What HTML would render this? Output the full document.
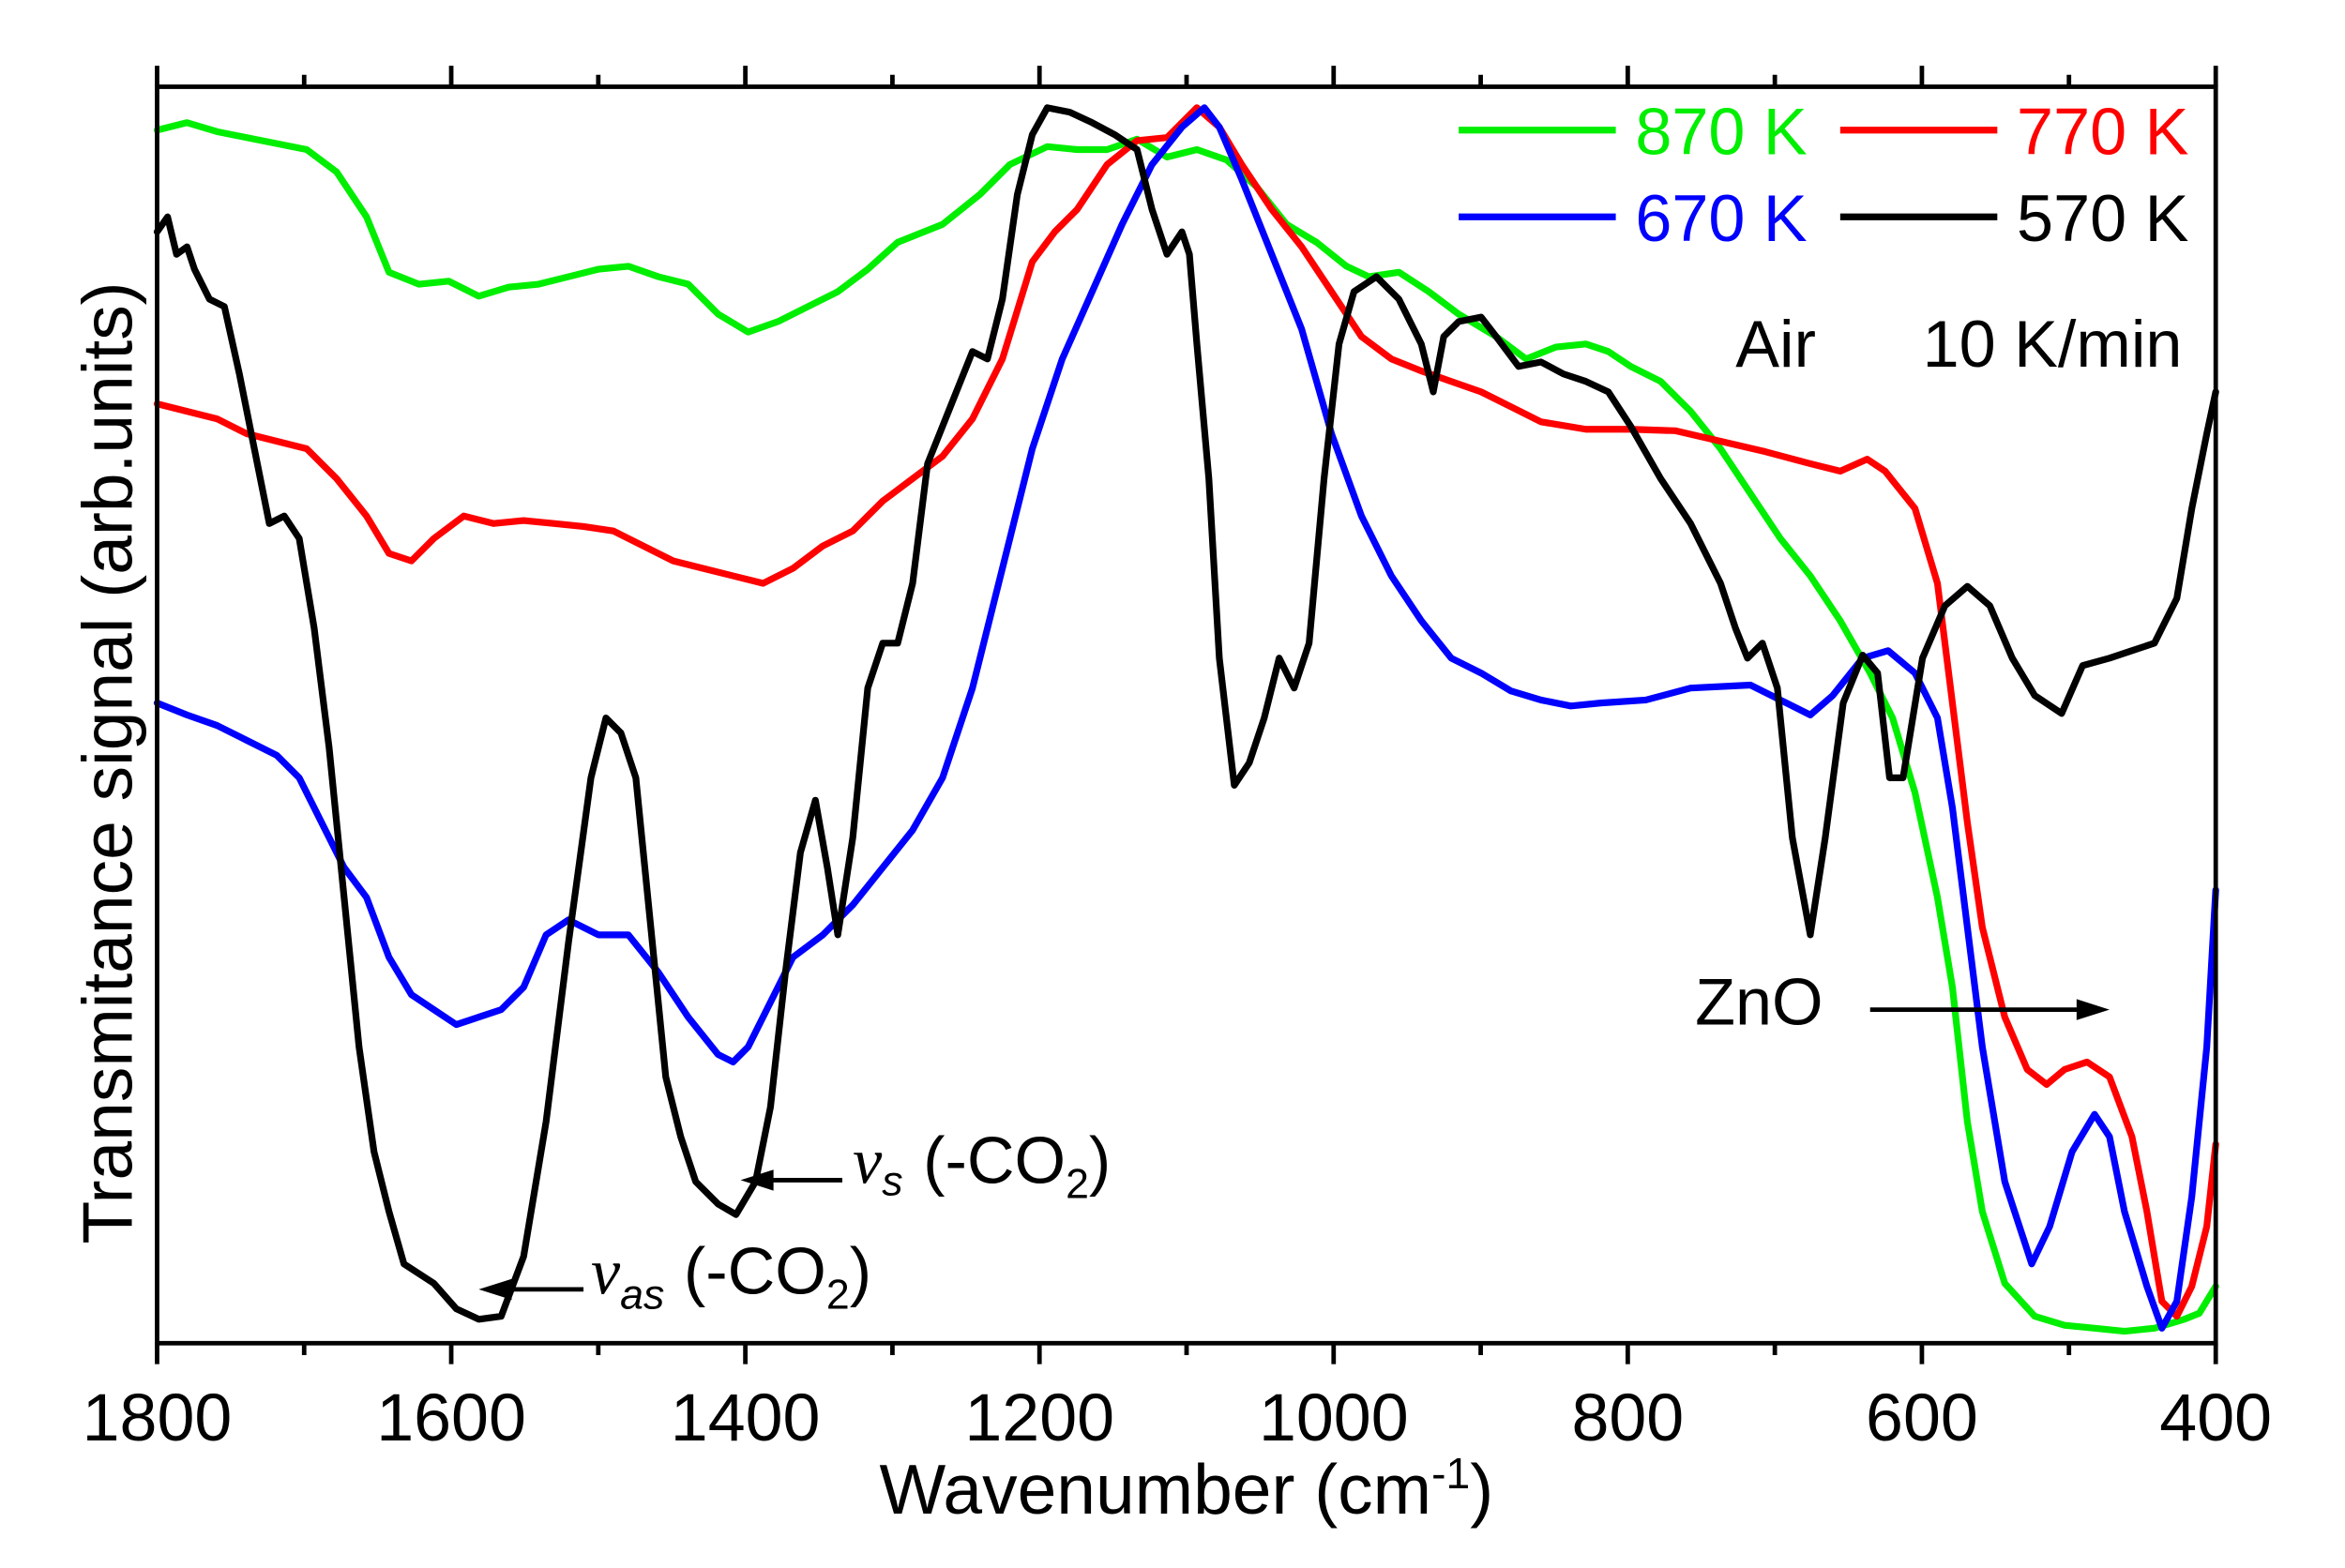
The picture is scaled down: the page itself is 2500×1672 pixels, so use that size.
<!DOCTYPE html>
<html><head><meta charset="utf-8"><style>html,body{margin:0;padding:0;background:#fff}svg{display:block}</style></head>
<body>
<svg width="2500" height="1672" viewBox="0 0 1567.4 1048.3" preserveAspectRatio="none" xmlns="http://www.w3.org/2000/svg" font-family="Liberation Sans, sans-serif">
<g fill="none" stroke-linejoin="round" stroke-linecap="round" stroke-width="4.5">
<polyline stroke="#00ee00" points="105,87 125,82 145,88 165,92 185,96 205,100 225,115 245,145 260,182 280,190 300,188 320,198 340,192 360,190 380,185 400,180 420,178 440,185 460,190 480,210 500,222 520,215 540,205 560,195 580,180 600,162 630,150 655,130 675,110 700,98 720,100 740,100 760,93 780,105 800,100 820,107 840,125 860,150 880,162 900,178 915,185 935,182 955,195 975,210 1000,225 1020,240 1040,232 1060,230 1075,235 1090,245 1110,255 1130,275 1150,300 1170,330 1190,360 1210,385 1230,415 1250,450 1265,480 1280,530 1295,600 1305,660 1315,750 1325,810 1340,858 1360,880 1380,886 1400,888 1420,890 1440,888 1460,882 1470,878 1481,860"/>
<polyline stroke="#ff0000" points="105,270 125,275 145,280 165,290 185,295 205,300 225,320 245,345 260,370 275,375 290,360 310,345 330,350 350,348 370,350 390,352 410,355 430,365 450,375 470,380 490,385 510,390 530,380 550,365 570,355 590,335 610,320 630,305 650,280 670,240 690,175 705,155 720,140 740,110 760,94 780,92 800,72 815,85 830,110 850,140 870,165 890,195 910,225 930,240 950,248 970,255 990,262 1010,272 1030,282 1060,287 1090,287 1120,288 1150,295 1180,302 1210,310 1230,315 1248,307 1260,315 1280,340 1295,390 1305,470 1315,550 1325,620 1340,680 1355,715 1368,725 1380,715 1395,710 1410,720 1425,760 1435,810 1445,870 1455,880 1465,860 1475,820 1481,765"/>
<polyline stroke="#0000ff" points="105,470 125,478 145,485 165,495 185,505 200,520 215,550 230,580 245,600 260,640 275,665 290,675 305,685 320,680 335,675 350,660 365,625 380,615 400,625 420,625 440,650 460,680 480,705 490,710 500,700 515,670 530,640 550,625 570,605 590,580 610,555 630,520 650,460 670,380 690,300 710,240 730,195 750,150 770,110 790,85 805,72 815,85 830,120 850,170 870,220 890,290 910,345 930,385 950,415 970,440 990,450 1010,462 1030,468 1050,472 1070,470 1100,468 1130,460 1170,458 1190,468 1210,478 1225,465 1245,440 1262,435 1280,450 1295,480 1305,540 1315,620 1325,700 1340,790 1358,845 1370,820 1385,770 1400,745 1410,760 1420,810 1435,860 1445,888 1455,870 1465,800 1475,700 1481,595"/>
<polyline stroke="#000" points="105,155 112,145 118,170 125,165 130,180 140,200 150,205 160,250 170,300 180,350 190,345 200,360 210,420 220,500 230,600 240,700 250,770 260,810 270,845 290,858 305,875 320,882 335,880 350,840 365,750 380,630 395,520 405,480 415,490 425,520 435,620 445,720 455,760 465,790 480,805 492,812 505,790 515,740 525,650 535,570 545,535 553,580 560,625 570,560 580,460 590,430 600,430 610,390 620,310 630,285 640,260 650,235 660,240 670,200 680,130 690,90 700,72 715,75 730,82 745,90 760,100 770,140 780,170 790,155 795,170 800,230 808,320 815,440 825,525 835,510 845,480 855,440 865,460 875,430 885,320 895,230 905,195 920,185 935,200 950,230 958,262 965,225 975,215 990,212 1000,225 1015,245 1030,242 1045,250 1060,255 1075,262 1090,285 1110,320 1130,350 1150,390 1160,420 1168,440 1178,430 1188,460 1198,560 1210,625 1220,560 1232,470 1245,438 1255,450 1263,520 1272,520 1285,440 1300,405 1315,392 1330,405 1345,440 1360,465 1378,477 1392,445 1410,440 1425,435 1440,430 1455,400 1465,340 1475,290 1481,262"/>
</g>
<g stroke="#000" stroke-width="3" fill="none">
<rect x="105" y="58" width="1376" height="840"/>
<path d="M105,898v14M203.3,898v8M301.6,898v14M399.9,898v8M498.2,898v14M596.5,898v8M694.8,898v14M793.1,898v8M891.4,898v14M989.7,898v8M1088,898v14M1186.3,898v8M1284.6,898v14M1382.9,898v8M1481,898v14"/>
<path d="M105,58v-14M203.3,58v-8M301.6,58v-14M399.9,58v-8M498.2,58v-14M596.5,58v-8M694.8,58v-14M793.1,58v-8M891.4,58v-14M989.7,58v-8M1088,58v-14M1186.3,58v-8M1284.6,58v-14M1382.9,58v-8M1481,58v-14"/>
<path d="M1250,675h140M563,789h-50M390,862h-50"/>
</g>
<path d="M1410,675l-22,-7v14z" fill="#000"/>
<path d="M495,789l22,-7v14z" fill="#000"/>
<path d="M320,862l22,-7v14z" fill="#000"/>
<g font-size="45" fill="#000" text-anchor="middle">
<text x="105" y="963">1800</text><text x="301.6" y="963">1600</text><text x="498.2" y="963">1400</text><text x="694.8" y="963">1200</text><text x="891.4" y="963">1000</text><text x="1088" y="963">800</text><text x="1284.6" y="963">600</text><text x="1481" y="963">400</text>
<text x="793" y="1012" font-size="47">Wavenumber (cm<tspan dy="-17" font-size="29">-1</tspan><tspan dy="17">)</tspan></text>
<text transform="translate(88,510) rotate(-90)" font-size="47">Transmitance signal (arb.units)</text>
</g>
<g stroke-width="4.5">
<line x1="975" y1="87" x2="1080" y2="87" stroke="#00ee00"/>
<line x1="1230" y1="87" x2="1335" y2="87" stroke="#ff0000"/>
<line x1="975" y1="145" x2="1080" y2="145" stroke="#0000ff"/>
<line x1="1230" y1="145" x2="1335" y2="145" stroke="#000"/>
</g>
<g font-size="44">
<text x="1093" y="103" fill="#00ee00">870 K</text>
<text x="1348" y="103" fill="#ff0000">770 K</text>
<text x="1093" y="161" fill="#0000ff">670 K</text>
<text x="1348" y="161" fill="#000">570 K</text>
<text x="1160" y="245">Air</text>
<text x="1285" y="245">10 K/min</text>
<text x="1133" y="685">ZnO</text>
<text x="570" y="791" font-family="Liberation Serif, serif" font-style="italic">ν<tspan font-size="28" dy="8" font-family="Liberation Sans, sans-serif">s</tspan></text>
<text x="617" y="791">(-CO<tspan font-size="28" dy="10">2</tspan><tspan dy="-10">)</tspan></text>
<text x="395" y="865" font-family="Liberation Serif, serif" font-style="italic">ν<tspan font-size="28" dy="10" font-family="Liberation Sans, sans-serif">as</tspan></text>
<text x="457" y="865">(-CO<tspan font-size="28" dy="10">2</tspan><tspan dy="-10">)</tspan></text>
</g>
</svg>
</body></html>
